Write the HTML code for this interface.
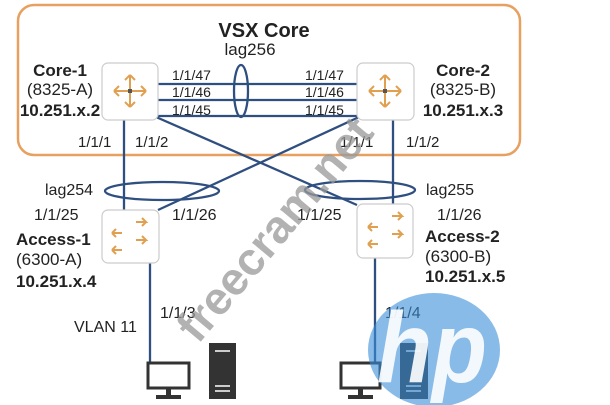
<!DOCTYPE html>
<html><head><meta charset="utf-8"><style>
html,body{margin:0;padding:0;background:#fff;width:610px;height:405px;overflow:hidden}
svg{display:block;font-family:"Liberation Sans",Arial,sans-serif}
</style></head><body>
<svg width="610" height="405" viewBox="0 0 610 405" xmlns="http://www.w3.org/2000/svg">
<rect x="18" y="5" width="502" height="150" rx="16" fill="none" stroke="#e8a060" stroke-width="2.5"/>
<g stroke="#2f4f80" stroke-width="2.3" fill="none">
<line x1="158" y1="84" x2="357" y2="84"/>
<line x1="158" y1="100" x2="357" y2="100"/>
<line x1="158" y1="116" x2="357" y2="116"/>
<ellipse cx="241" cy="91" rx="7" ry="26"/>
<line x1="124" y1="120" x2="124" y2="210"/>
<line x1="393" y1="120" x2="393" y2="204"/>
<line x1="156" y1="117" x2="357" y2="205"/>
<line x1="359" y1="117" x2="158" y2="210"/>
<ellipse cx="162" cy="191" rx="57" ry="9"/>
<ellipse cx="360" cy="190" rx="55" ry="9"/>
<line x1="150" y1="263" x2="150" y2="362"/>
<line x1="375" y1="258" x2="375" y2="362"/>
</g>
<g fill="#fff" stroke="#ccc" stroke-width="1.2">
<rect x="102" y="63" width="56" height="57" rx="6"/>
<rect x="357" y="63" width="57" height="57" rx="6"/>
<rect x="102" y="210" width="57" height="53" rx="6"/>
<rect x="357" y="204" width="56" height="54" rx="6"/>
</g>
<g stroke="#e0a050" stroke-width="2" fill="none">
<path d="M130 75v32M114 91h32M130 75l-5 5M130 75l5 5M130 107l-5-5M130 107l5-5M114 91l5-5M114 91l5 5M146 91l-5-5M146 91l-5 5"/>
<path d="M385 75v32M369 91h32M385 75l-5 5M385 75l5 5M385 107l-5-5M385 107l5-5M369 91l5-5M369 91l5 5M401 91l-5-5M401 91l-5 5"/>
<path d="M136 222h10l-4-4M146 222l-4 4M112 233h10M112 233l4-4M112 233l4 4M136 240h10l-4-4M146 240l-4 4M112 250h10M112 250l4-4M112 250l4 4"/>
<path d="M392 216h10l-4-4M402 216l-4 4M368 227h10M368 227l4-4M368 227l4 4M392 234h10l-4-4M402 234l-4 4M368 244h10M368 244l4-4M368 244l4 4"/>
</g>
<rect x="128" y="89" width="4" height="4" fill="#555"/><rect x="383" y="89" width="4" height="4" fill="#555"/>
<g fill="#222" font-size="14">
<text x="264" y="37" font-size="20" font-weight="bold" text-anchor="middle">VSX Core</text>
<text x="250" y="55" font-size="17" text-anchor="middle">lag256</text>
<text x="60" y="76" font-size="17" font-weight="bold" text-anchor="middle">Core-1</text>
<text x="60" y="95" font-size="17" text-anchor="middle">(8325-A)</text>
<text x="60" y="116" font-size="17" font-weight="bold" text-anchor="middle">10.251.x.2</text>
<text x="463" y="76" font-size="17" font-weight="bold" text-anchor="middle">Core-2</text>
<text x="463" y="95" font-size="17" text-anchor="middle">(8325-B)</text>
<text x="463" y="116" font-size="17" font-weight="bold" text-anchor="middle">10.251.x.3</text>
<text x="172" y="80">1/1/47</text><text x="172" y="97">1/1/46</text><text x="172" y="115">1/1/45</text>
<text x="305" y="80">1/1/47</text><text x="305" y="97">1/1/46</text><text x="305" y="115">1/1/45</text>
<text x="78" y="147" font-size="15">1/1/1</text><text x="135" y="147" font-size="15">1/1/2</text>
<text x="340" y="147" font-size="15">1/1/1</text><text x="406" y="147" font-size="15">1/1/2</text>
<text x="45" y="195" font-size="16">lag254</text><text x="426" y="195" font-size="16">lag255</text>
<text x="34" y="220" font-size="16">1/1/25</text><text x="172" y="220" font-size="16">1/1/26</text>
<text x="297" y="220" font-size="16">1/1/25</text><text x="437" y="220" font-size="16">1/1/26</text>
<text x="16" y="245" font-size="17" font-weight="bold">Access-1</text>
<text x="16" y="265" font-size="17">(6300-A)</text>
<text x="16" y="287" font-size="17" font-weight="bold">10.251.x.4</text>
<text x="425" y="242" font-size="17" font-weight="bold">Access-2</text>
<text x="425" y="262" font-size="17">(6300-B)</text>
<text x="425" y="282" font-size="17" font-weight="bold">10.251.x.5</text>
<text x="160" y="318" font-size="16">1/1/3</text>
<text x="74" y="332" font-size="16">VLAN 11</text>
<text x="385" y="318" font-size="16">1/1/4</text>
</g>
<g fill="none" stroke="#333" stroke-width="3">
<rect x="148" y="363" width="41" height="25"/><rect x="341" y="363" width="39" height="25"/>
</g>
<g fill="#333">
<rect x="166" y="388" width="5" height="8"/><rect x="156" y="395" width="25" height="4"/>
<rect x="358" y="388" width="5" height="8"/><rect x="348" y="395" width="25" height="4"/>
<rect x="209" y="343" width="27" height="56"/><rect x="400" y="343" width="28" height="56"/>
</g>
<g fill="#ccc"><rect x="215" y="350" width="15" height="2"/><rect x="215" y="385" width="15" height="2"/><rect x="215" y="390" width="15" height="2"/>
<rect x="406" y="350" width="15" height="2"/><rect x="406" y="385" width="15" height="2"/><rect x="406" y="390" width="15" height="2"/></g>
<text x="0" y="0" font-size="46" font-weight="bold" fill="#999" opacity="0.75" transform="translate(198,345) rotate(-50)">freecram.net</text>
<ellipse cx="434" cy="350" rx="66" ry="57" fill="#3a8ed8" opacity="0.6"/>
<text x="0" y="0" font-size="100" font-weight="bold" font-style="italic" fill="#fff" opacity="0.9" text-anchor="middle" transform="translate(432,382) scale(0.9,1)">hp</text>
</svg>
</body></html>
